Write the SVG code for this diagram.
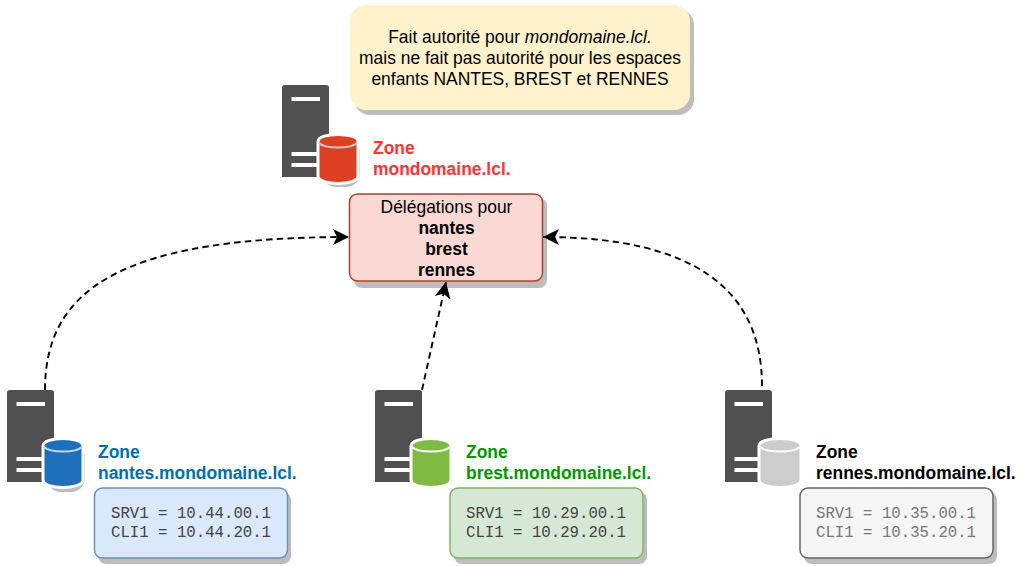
<svg xmlns="http://www.w3.org/2000/svg" width="1022" height="566" viewBox="0 0 1022 566">
<style>
text{font-family:"Liberation Sans",Arial,sans-serif;font-size:17.45px;fill:#000}
.c{text-anchor:middle}
.b{font-weight:bold}
text.m{font-family:"Liberation Mono","Courier New",monospace;font-size:15.7px;fill:#444}
.link{fill:none;stroke:#000;stroke-width:1.900;stroke-dasharray:6.500 4.200}
.sh{fill:#bdbdbd}
.srv{fill:#505050}
.st{fill:#fff}
.cylo{stroke:#fff;stroke-width:3}
.band{fill:none;stroke-width:2}
</style>
<defs>
<marker id="arr" markerUnits="userSpaceOnUse" markerWidth="18" markerHeight="18" refX="16" refY="9" orient="auto"><path d="M0 1 L16 9 L0 17 L4 9 Z" fill="#000"/></marker>
<g id="server">
<path class="srv" d="M3 0H44A3 3 0 0 1 47 3V92H0V3A3 3 0 0 1 3 0Z"/>
<rect class="st" x="9.500" y="12" width="28.500" height="4"/>
<rect class="st" x="9.500" y="67" width="28.500" height="4"/>
<rect class="st" x="9.500" y="78" width="28.500" height="4"/>
</g>
</defs>
<g id="note">
<rect class="sh" x="354" y="9" width="340" height="106" rx="16"/>
<rect x="350" y="5" width="340" height="105" rx="16" fill="#fff2cc"/>
<text class="c" x="520" y="43">Fait autorité pour <tspan font-style="italic">mondomaine.lcl.</tspan></text>
<text class="c" x="520" y="64">mais ne fait pas autorité pour les espaces</text>
<text class="c" x="520" y="85">enfants NANTES, BREST et RENNES</text>
</g>
<g id="zone-root">
<use href="#server" x="282" y="85"/>
<rect class="sh" x="322" y="139" width="38" height="48" rx="14"/>
<path class="cylo" fill="#dd3f24" d="M318 141.500C318 132 358 132 358 141.500V176C358 186 318 186 318 176Z"/>
<path class="band" stroke="#d6c5c2" d="M319 143C325 149 351 149 357 143"/>
<text class="b" x="373" y="154" style="fill:#ff3333">Zone</text>
<text class="b" x="373" y="175" style="fill:#ff3333">mondomaine.lcl.</text>
</g>
<g id="delegations">
<rect class="sh" x="354" y="198" width="193" height="90" rx="8"/>
<rect x="349.500" y="194" width="193" height="87" rx="8" fill="#fad9d5" stroke="#ae4132" stroke-width="1.500"/>
<text class="c" x="446.500" y="213">Délégations pour</text>
<text class="c b" x="446.500" y="234">nantes</text>
<text class="c b" x="446.500" y="255">brest</text>
<text class="c b" x="446.500" y="276">rennes</text>
</g>
<g id="zone-nantes">
<use href="#server" x="7" y="390"/>
<rect class="sh" x="47" y="443" width="38" height="49" rx="14"/>
<path class="cylo" fill="#1f70bb" d="M43 446C43 436 83 436 83 446V480C83 490 43 490 43 480Z"/>
<path class="band" stroke="#c4d3e0" d="M44 447C50 453 76 453 82 447"/>
<text class="b" x="98" y="458" style="fill:#006eaf">Zone</text>
<text class="b" x="98" y="479" style="fill:#006eaf">nantes.mondomaine.lcl.</text>
<rect class="sh" x="98" y="492" width="193" height="72" rx="8"/>
<rect x="94.500" y="488" width="193" height="70" rx="8" fill="#dae8fc" stroke="#6c8ebf" stroke-width="1.500"/>
<text class="m" x="111" y="518">SRV1 = 10.44.00.1</text>
<text class="m" x="111" y="537">CLI1 = 10.44.20.1</text>
</g>
<g id="zone-brest">
<use href="#server" x="375" y="390"/>
<path class="cylo" fill="#7fba42" d="M411 446C411 436 451 436 451 446V480C451 490 411 490 411 480Z"/>
<path class="band" stroke="#fff" d="M412 447C418 453 444 453 450 447"/>
<text class="b" x="466" y="458" style="fill:#009900">Zone</text>
<text class="b" x="466" y="479" style="fill:#009900">brest.mondomaine.lcl.</text>
<rect class="sh" x="454" y="492" width="193" height="72" rx="8"/>
<rect x="450" y="488" width="193" height="70" rx="8" fill="#d5e8d4" stroke="#82b366" stroke-width="1.500"/>
<text class="m" x="466" y="518">SRV1 = 10.29.00.1</text>
<text class="m" x="466" y="537">CLI1 = 10.29.20.1</text>
</g>
<g id="zone-rennes">
<use href="#server" x="725" y="390"/>
<path class="cylo" fill="#cccccc" d="M759 446C759 436 801 436 801 446V480C801 490 759 490 759 480Z"/>
<path class="band" stroke="#fff" d="M760 447C766 453 794 453 800 447"/>
<text class="b" x="816" y="458">Zone</text>
<text class="b" x="816" y="479">rennes.mondomaine.lcl.</text>
<rect class="sh" x="804" y="492" width="193" height="72" rx="8"/>
<rect x="800" y="488" width="193" height="70" rx="8" fill="#f5f5f5" stroke="#666666" stroke-width="1.500"/>
<text class="m" x="816" y="518" style="fill:#777">SRV1 = 10.35.00.1</text>
<text class="m" x="816" y="537" style="fill:#777">CLI1 = 10.35.20.1</text>
</g>
<g id="connectors">
<path class="link" d="M45 390C45 290 120 237 349 237" marker-end="url(#arr)"/>
<path class="link" d="M422 390L446 282" marker-end="url(#arr)"/>
<path class="link" d="M762 386C762 290 695 237 543 237" marker-end="url(#arr)"/>
</g>
</svg>
